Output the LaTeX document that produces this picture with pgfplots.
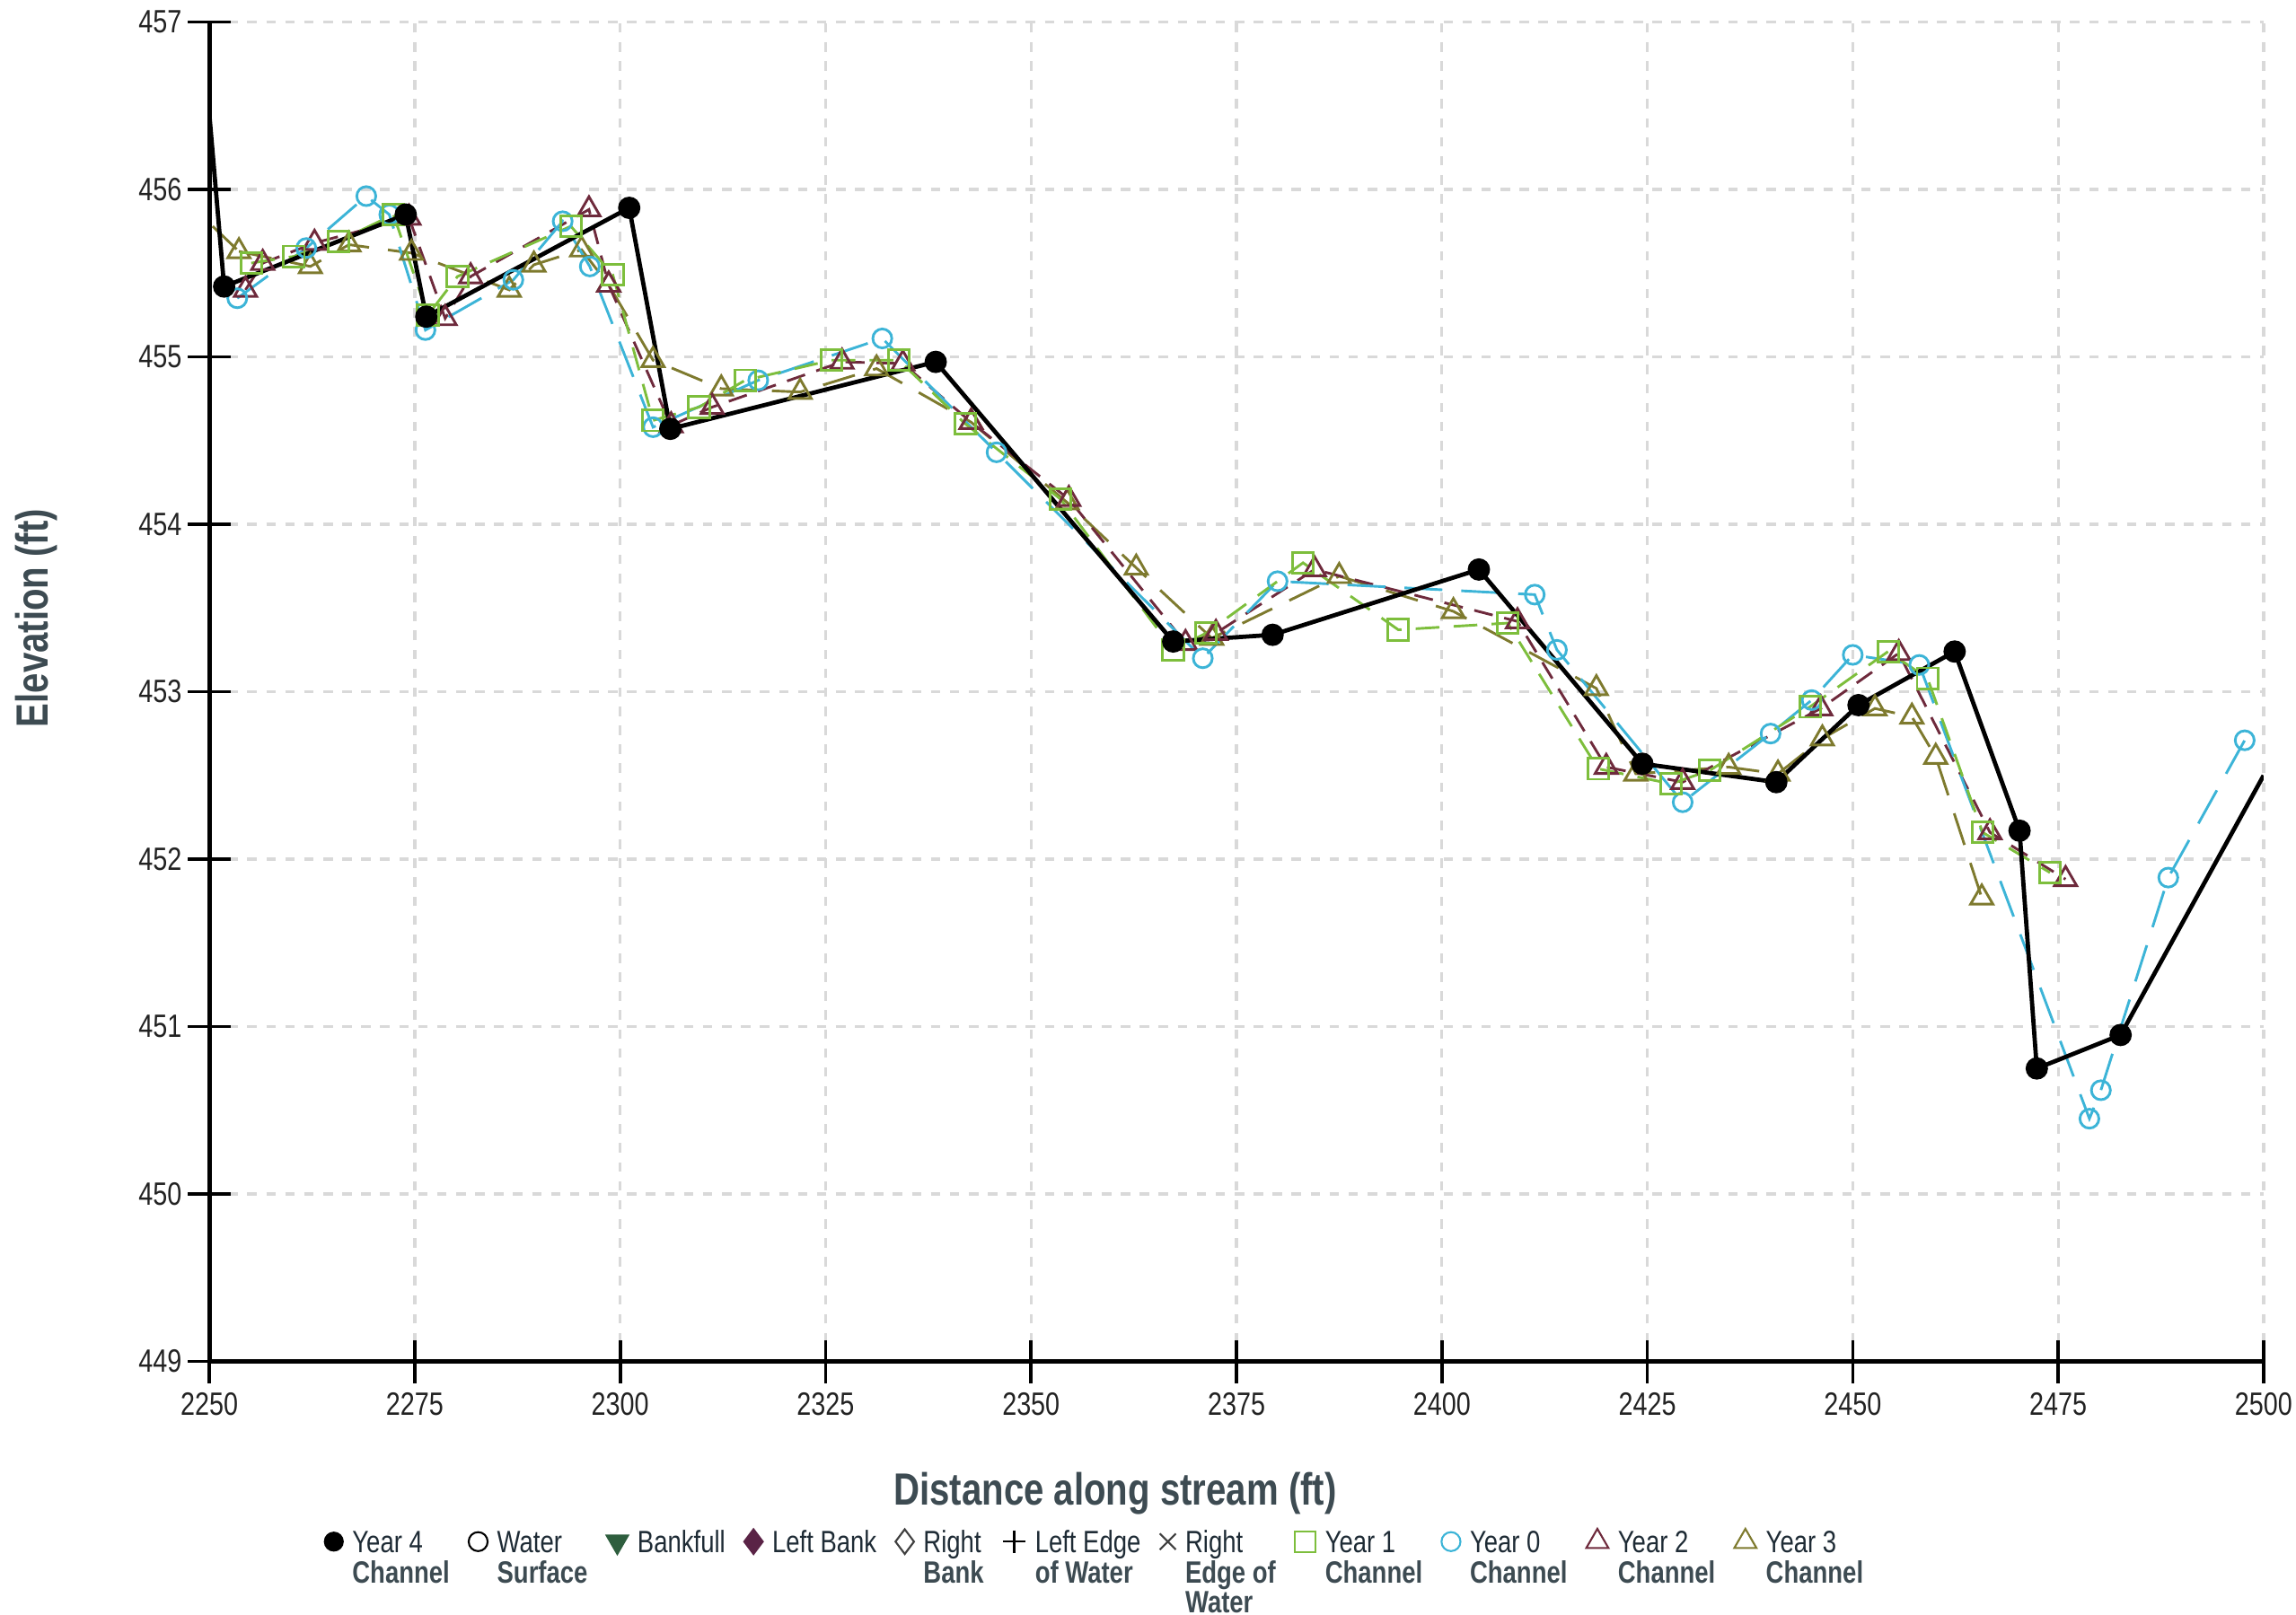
\documentclass[border=0pt]{standalone}
\usepackage{fontspec}
\setmainfont{Liberation Sans}[FakeStretch=0.8]
\usepackage{pgfplots}
\pgfplotsset{compat=1.18}
\definecolor{yzero}{HTML}{3CB4D7}
\definecolor{yone}{HTML}{7DBE3C}
\definecolor{ytwo}{HTML}{6E2A3C}
\definecolor{ythree}{HTML}{7E7A2E}
\definecolor{labgray}{HTML}{3D4B52}
\definecolor{legone}{HTML}{1E2B35}
\definecolor{bankgreen}{HTML}{2E5E3E}
\definecolor{lbank}{HTML}{5A2346}
\definecolor{ticktext}{HTML}{222222}
\newcommand{\lent}[2]{\begin{tabular}[t]{@{}l@{}}#1\\\textbf{\color{labgray}#2}\end{tabular}}
\newcommand{\lenth}[3]{\begin{tabular}[t]{@{}l@{}}#1\\\textbf{\color{labgray}#2}\\\textbf{\color{labgray}#3}\end{tabular}}
\begin{document}
\begin{tikzpicture}
\begin{axis}[name=ax,
  width=15.21cm, height=9.92cm, scale only axis,
  xmin=2250, xmax=2500, ymin=449, ymax=457,
  xtick={2250,2275,...,2500}, ytick={449,450,...,457},
  axis x line*=bottom, axis y line*=left,
  axis line style={black, line width=0.9pt, -},
  tick style={black, line width=0.7pt},
  major tick length=0.32cm, tick align=center,
  grid=major,
  major grid style={gray!30, line width=0.6pt, dash pattern=on 2pt off 2pt},
  ticklabel style={font=\fontsize{6.8}{7}\selectfont, text=ticktext},
  /pgf/number format/assume math mode=true,
  /pgf/number format/1000 sep={},
  xticklabel style={yshift=0.05cm},
  yticklabel style={xshift=0.08cm},
  xlabel={Distance along stream (ft)},
  ylabel={Elevation (ft)},
  label style={font=\fontsize{9.5}{11}\selectfont\bfseries, text=labgray},
  xlabel style={at={(axis description cs:0.441,-0.0984)}, anchor=center},
  ylabel style={at={(axis description cs:-0.0842,0.555)}, anchor=center},
  legend columns=11,
  legend image code/.code={\draw[#1] plot[only marks] coordinates {(0.1cm,0.08cm)};},
  legend style={draw=none, fill=none, at={(axis description cs:0.433,-0.111)}, anchor=north,
    font=\fontsize{6.5}{7.3}\selectfont\renewcommand{\arraystretch}{0.8}, text=legone,
    cells={anchor=base west},
    /tikz/every even column/.append style={column sep=0.07cm}},
]
\addlegendimage{black, mark=*, mark size=1.9pt}
\addlegendentry{\lent{Year 4}{Channel}}
\addlegendimage{black, mark=o, mark size=2pt}
\addlegendentry{\lent{Water}{Surface}}
\addlegendimage{bankgreen, mark=triangle*, mark size=2.6pt, mark options={rotate=180, fill=bankgreen}}
\addlegendentry{Bankfull}
\addlegendimage{lbank, mark=diamond*, mark size=2.6pt, mark options={fill=lbank}}
\addlegendentry{Left Bank}
\addlegendimage{black!75, mark=diamond, mark size=2.6pt}
\addlegendentry{\lent{Right}{Bank}}
\addlegendimage{black, mark=+, mark size=2.4pt}
\addlegendentry{\lent{Left Edge}{of Water}}
\addlegendimage{black!75, mark=x, mark size=2.4pt}
\addlegendentry{\lenth{Right}{Edge of}{Water}}
\addlegendimage{yone, mark=square, mark size=2.2pt}
\addlegendentry{\lent{Year 1}{Channel}}
\addlegendimage{yzero, mark=o, mark size=2pt}
\addlegendentry{\lent{Year 0}{Channel}}
\addlegendimage{ytwo, mark=triangle, mark size=2.7pt}
\addlegendentry{\lent{Year 2}{Channel}}
\addlegendimage{ythree, mark=triangle, mark size=2.7pt}
\addlegendentry{\lent{Year 3}{Channel}}

% Year 3 Channel
\addplot[forget plot, ythree, line width=0.55pt, dash pattern=on 7pt off 4pt] coordinates {(2250.4,455.78)(2253.6,455.63)};
\addplot[forget plot, ythree, line width=0.55pt, dash pattern=on 7pt off 4pt, mark=triangle, mark size=2.7pt, mark options={solid}] coordinates {
(2253.6,455.63)(2262.3,455.54)(2267.0,455.67)(2274.6,455.62)(2286.5,455.40)(2289.5,455.55)(2295.3,455.64)(2298.6,455.43)(2304.0,454.98)(2312.3,454.81)(2321.9,454.79)(2331.2,454.93)(2342.7,454.61)(2354.4,454.13)(2362.8,453.74)(2372.0,453.32)(2387.5,453.69)(2401.4,453.48)(2418.8,453.02)(2423.6,452.51)(2434.9,452.55)(2440.9,452.51)(2446.3,452.72)(2452.7,452.90)(2457.2,452.85)(2460.1,452.61)(2465.7,451.77)};
% Year 2 Channel
\addplot[forget plot, ytwo, line width=0.55pt, dash pattern=on 4pt off 2.5pt, mark=triangle, mark size=2.7pt, mark options={solid}] coordinates {
(2254.4,455.40)(2256.5,455.56)(2262.8,455.68)(2274.3,455.83)(2278.7,455.23)(2281.8,455.48)(2296.2,455.88)(2298.6,455.43)(2306.2,454.59)(2311.2,454.70)(2327.0,454.97)(2334.4,454.96)(2342.7,454.61)(2354.6,454.15)(2368.8,453.29)(2372.5,453.35)(2384.5,453.73)(2409.2,453.42)(2420.0,452.55)(2429.3,452.46)(2446.1,452.90)(2455.6,453.23)(2466.7,452.16)(2475.9,451.88)};
% Year 0 Channel
\addplot[forget plot, yzero, line width=0.55pt, dash pattern=on 8pt off 4pt, mark=o, mark size=2pt, mark options={solid}] coordinates {
(2253.4,455.35)(2261.8,455.65)(2269.1,455.96)(2271.9,455.85)(2276.3,455.16)(2287.0,455.46)(2293.0,455.81)(2296.3,455.54)(2304.0,454.58)(2316.8,454.86)(2331.9,455.11)(2345.8,454.43)(2370.9,453.20)(2380.0,453.66)(2411.3,453.58)(2414.0,453.25)(2429.3,452.34)(2440.0,452.75)(2445.0,452.95)(2450.0,453.22)(2458.1,453.16)(2478.8,450.45)(2480.2,450.62)(2488.4,451.89)(2497.7,452.71)};
% Year 1 Channel
\addplot[forget plot, yone, line width=0.55pt, dash pattern=on 5pt off 3pt, mark=square, mark size=2.2pt, mark options={solid}] coordinates {
(2255.1,455.56)(2260.3,455.60)(2265.7,455.69)(2272.4,455.85)(2276.6,455.25)(2280.2,455.48)(2294.0,455.78)(2299.1,455.49)(2304.0,454.62)(2309.6,454.70)(2315.2,454.86)(2325.7,454.98)(2333.9,454.98)(2342.0,454.60)(2353.6,454.15)(2367.3,453.25)(2371.3,453.35)(2383.1,453.77)(2394.7,453.37)(2408.0,453.41)(2419.0,452.54)(2427.9,452.45)(2432.6,452.53)(2444.8,452.91)(2454.3,453.24)(2459.1,453.08)(2465.8,452.16)(2474.0,451.92)};
% Year 4 Channel
\addplot[forget plot, black, line width=0.9pt] coordinates {(2250,456.45)(2251.8,455.42)};
\addplot[forget plot, black, line width=0.9pt] coordinates {(2482.6,450.95)(2500,452.50)};
\addplot[forget plot, black, line width=0.9pt, mark=*, mark size=1.9pt] coordinates {
(2251.8,455.42)(2273.9,455.85)(2276.4,455.24)(2301.1,455.89)(2306.1,454.57)(2338.4,454.97)(2367.3,453.30)(2379.4,453.34)(2404.5,453.73)(2424.4,452.57)(2440.7,452.46)(2450.7,452.92)(2462.4,453.24)(2470.3,452.17)(2472.4,450.75)(2482.6,450.95)};
\end{axis}
\pgfresetboundingbox
\path ([xshift=-1.55cm, yshift=-1.877cm]ax.south west) rectangle ([xshift=0.24cm, yshift=0.163cm]ax.north east);
\end{tikzpicture}
\end{document}
